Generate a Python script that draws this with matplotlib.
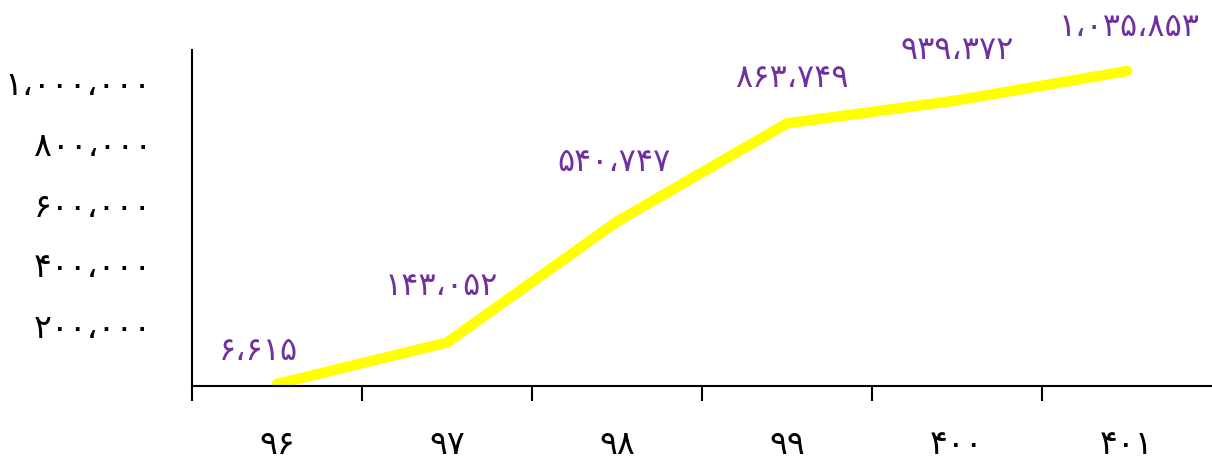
import matplotlib
matplotlib.use("Agg")
import matplotlib.pyplot as plt
from matplotlib.ticker import FixedLocator, FuncFormatter

# داده ها
salha = ["۹۶", "۹۷", "۹۸", "۹۹", "۴۰۰", "۴۰۱"]
meghdar = [6615, 143052, 540747, 863749, 939372, 1035853]
y_ticks = [200000, 400000, 600000, 800000, 1000000]

# جابجایی برچسب ها (پیکسل)
label_dx = [-19, -6, -3, 5, 0, 2]
label_dy = [32, 56, 59, 45, 50, 44]

FA = str.maketrans("0123456789,", "۰۱۲۳۴۵۶۷۸۹،")


def fa_num(v):
    return f"{int(v):,}".translate(FA)


plt.rcParams['font.family'] = ['DejaVu Sans']

fig = plt.figure(figsize=(12.12, 4.62), dpi=100)
ax = fig.add_axes([0.1584, 0.1645, 0.8416, 0.7273])

x = [i + 0.5 for i in range(len(salha))]
ax.plot(x, meghdar, color="#FFFF00", lw=7.5, solid_capstyle="round", solid_joinstyle="round")

for i, (xi, v) in enumerate(zip(x, meghdar)):
    ax.annotate(fa_num(v), (xi, v), xytext=(label_dx[i], label_dy[i]), textcoords="offset pixels",
                ha="center", va="center", color="#7030A0", fontsize=23)

ax.set_xlim(0, len(salha))
ax.set_ylim(0, 1105000)

ax.set_xticks(range(len(salha)))
ax.set_xticklabels([])
ax.xaxis.set_minor_locator(FixedLocator(x))
ax.set_xticklabels(salha, minor=True)
ax.tick_params(axis="x", which="major", length=11, width=1.5, direction="out")
ax.tick_params(axis="x", which="minor", length=0, pad=30, labelsize=24)

ax.yaxis.set_major_locator(FixedLocator(y_ticks))
ax.yaxis.set_major_formatter(FuncFormatter(lambda v, p: fa_num(v)))
ax.tick_params(axis="y", length=0, pad=29, labelsize=24)

for s in ["top", "right"]:
    ax.spines[s].set_visible(False)
ax.spines["left"].set_linewidth(1.5)
ax.spines["bottom"].set_linewidth(1.5)

fig.savefig("out.png", dpi=100)
